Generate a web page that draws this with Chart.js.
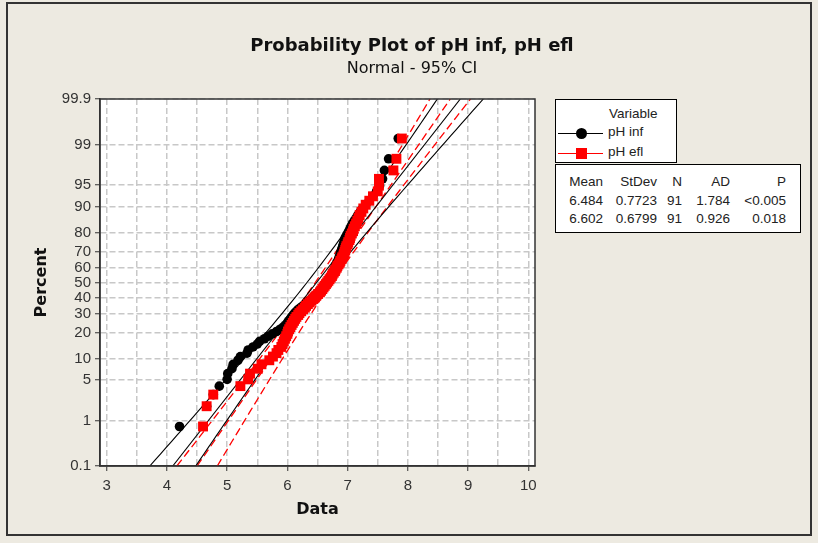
<!DOCTYPE html>
<html>
<head>
<meta charset="utf-8">
<script src="https://cdn.jsdelivr.net/npm/chart.js@4.4.1/dist/chart.umd.min.js"></script>
<style>
  html, body { margin: 0; padding: 0; background: #EDEAE1; }
  #wrap { position: relative; width: 818px; height: 543px; background: #EDEAE1; overflow: hidden; }
  #frame { position: absolute; left: 6px; top: 2px; width: 806px; height: 534px; border: 2px solid #333; box-sizing: border-box; }
  canvas { position: absolute; left: 0; top: 0; }
  .title { position: absolute; left: 0; width: 824px; text-align: center; color: #111; }
  #t1 { top: 34px; font: bold 18px 'DejaVu Sans', sans-serif; line-height: 22px; }
  #t2 { top: 59px; font: 16px 'DejaVu Sans', sans-serif; line-height: 18px; }
  .box { position: absolute; background: #fff; border: 1px solid #000; box-sizing: border-box;
         font: 13.5px 'Liberation Sans', sans-serif; color: #222; }
  .box span { position: absolute; line-height: 16px; white-space: nowrap; }
  .r { text-align: right; }
  .sw { position: absolute; height: 1px; }
</style>
</head>
<body>
<div id="wrap">
  <div id="frame"></div>
  <canvas id="chart" width="818" height="543"></canvas>
  <div class="title" id="t1">Probability Plot of pH inf, pH efl</div>
  <div class="title" id="t2">Normal - 95% CI</div>
  <div class="box" id="legend" style="left:555px;top:99px;width:122px;height:64px;"></div>
  <div class="box" id="stats" style="left:555px;top:164px;width:246px;height:69px;"></div>
</div>
<script>
'use strict';

// ─── Data ─────────────────────────────────────────────────────
const seriesNames = ['pH inf', 'pH efl'];
const seriesColors = ['#000000', '#FF0000'];

// sorted observations, 91 each
const phInf = [
  4.21, 4.66, 4.77, 4.87, 5.00, 5.01, 5.08, 5.10, 5.18, 5.22,
  5.33, 5.35, 5.43, 5.50, 5.54, 5.62, 5.68, 5.75, 5.82, 5.88,
  5.93, 5.97, 6.00, 6.02, 6.05, 6.07, 6.10, 6.12, 6.15, 6.18,
  6.22, 6.26, 6.30, 6.33, 6.36, 6.40, 6.43, 6.46, 6.49, 6.52,
  6.55, 6.57, 6.60, 6.62, 6.64, 6.66, 6.68, 6.70, 6.71, 6.72,
  6.74, 6.75, 6.76, 6.78, 6.79, 6.80, 6.81, 6.82, 6.84, 6.85,
  6.86, 6.87, 6.88, 6.89, 6.90, 6.91, 6.92, 6.93, 6.94, 6.95,
  6.96, 6.98, 7.00, 7.02, 7.04, 7.06, 7.08, 7.11, 7.14, 7.17,
  7.21, 7.25, 7.30, 7.36, 7.42, 7.48, 7.53, 7.58, 7.61, 7.68,
  7.84
];
const phEfl = [
  4.60, 4.66, 4.77, 5.22, 5.35, 5.38, 5.51, 5.57, 5.70, 5.76,
  5.82, 5.85, 5.90, 5.92, 5.94, 5.96, 5.98, 6.00, 6.01, 6.03,
  6.05, 6.07, 6.09, 6.11, 6.13, 6.15, 6.18, 6.20, 6.23, 6.26,
  6.29, 6.31, 6.34, 6.37, 6.40, 6.43, 6.45, 6.48, 6.51, 6.54,
  6.56, 6.58, 6.60, 6.62, 6.64, 6.66, 6.68, 6.70, 6.72, 6.74,
  6.75, 6.77, 6.79, 6.80, 6.82, 6.83, 6.85, 6.87, 6.88, 6.90,
  6.91, 6.93, 6.94, 6.95, 6.96, 6.97, 6.98, 7.00, 7.01, 7.03,
  7.04, 7.05, 7.07, 7.09, 7.10, 7.12, 7.14, 7.16, 7.18, 7.20,
  7.23, 7.26, 7.30, 7.36, 7.42, 7.50, 7.52, 7.52, 7.76, 7.81,
  7.90
];

// table values
const means = [6.484, 6.602];
const stdevs = [0.7723, 0.6799];
const counts = [91, 91];
const adValues = ['1.784', '0.926'];
const pValues = ['<0.005', '0.018'];

// axes
const percentTicks = [0.1, 1, 5, 10, 20, 30, 40, 50, 60, 70, 80, 90, 95, 99, 99.9];
const xGrid = [3, 3.5, 4, 4.5, 5, 5.5, 6, 6.5, 7, 7.5, 8, 8.5, 9, 9.5, 10];
const xMin = 2.89, xMax = 10.11;

// inverse normal cdf (Acklam)
function probit(p) {
    const a = [-3.969683028665376e+01, 2.209460984245205e+02, -2.759285104469687e+02, 1.383577518672690e+02, -3.066479806614716e+01, 2.506628277459239e+00];
    const b = [-5.447609879822406e+01, 1.615858368580409e+02, -1.556989798598866e+02, 6.680131188771972e+01, -1.328068155288572e+01];
    const c = [-7.784894002430293e-03, -3.223964580411365e-01, -2.400758277161838e+00, -2.549732539343734e+00, 4.374664141464968e+00, 2.938163982698783e+00];
    const d = [7.784695709041462e-03, 3.224671290700398e-01, 2.445134137142996e+00, 3.754408661907416e+00];
    const lo = 0.02425;
    let q, r;
    if (p < lo) {
        q = Math.sqrt(-2 * Math.log(p));
        return (((((c[0]*q+c[1])*q+c[2])*q+c[3])*q+c[4])*q+c[5]) / ((((d[0]*q+d[1])*q+d[2])*q+d[3])*q+1);
    }
    if (p > 1 - lo) {
        q = Math.sqrt(-2 * Math.log(1 - p));
        return -(((((c[0]*q+c[1])*q+c[2])*q+c[3])*q+c[4])*q+c[5]) / ((((d[0]*q+d[1])*q+d[2])*q+d[3])*q+1);
    }
    q = p - 0.5; r = q * q;
    return (((((a[0]*r+a[1])*r+a[2])*r+a[3])*r+a[4])*r+a[5])*q / (((((b[0]*r+b[1])*r+b[2])*r+b[3])*r+b[4])*r+1);
}

const zMin = probit(percentTicks[0] / 100);
const zMax = probit(percentTicks[percentTicks.length - 1] / 100);

// median ranks -> normal scores
function toPoints(values) {
    const n = values.length;
    return values.map((v, i) => ({ x: v, y: probit((i + 1 - 0.3) / (n + 0.4)) }));
}

// fitted line and 95% CI from mean / stdev / N
function fitLine(k) {
    return [zMin, zMax].map(z => ({ x: means[k] + stdevs[k] * z, y: z }));
}
function ciLine(k, sign) {
    const pts = [];
    const steps = 60;
    for (let j = 0; j <= steps; j++) {
        const z = zMin + (zMax - zMin) * j / steps;
        const half = 1.96 * stdevs[k] * Math.sqrt(1 / counts[k] + z * z / (2 * counts[k]));
        pts.push({ x: means[k] + stdevs[k] * z + sign * half, y: z });
    }
    return pts;
}

function lineSet(data, color, dash, width, order) {
    return {
        data, showLine: true, borderColor: color, borderWidth: width,
        borderDash: dash, pointRadius: 0, fill: false, order
    };
}

const datasets = [
    { label: seriesNames[1], data: toPoints(phEfl), pointStyle: 'rect', pointRadius: 7,
      backgroundColor: seriesColors[1], borderWidth: 0, showLine: false, order: 0 },
    { label: seriesNames[0], data: toPoints(phInf), pointStyle: 'circle', pointRadius: 4.8,
      backgroundColor: seriesColors[0], borderWidth: 0, showLine: false, order: 1 },
    lineSet(fitLine(0), seriesColors[0], [], 1.1, 2),
    lineSet(ciLine(0, -1), seriesColors[0], [], 1.1, 2),
    lineSet(ciLine(0, 1), seriesColors[0], [], 1.1, 2),
    lineSet(fitLine(1), seriesColors[1], [8, 4], 1.3, 3),
    lineSet(ciLine(1, -1), seriesColors[1], [8, 4], 1.3, 3),
    lineSet(ciLine(1, 1), seriesColors[1], [8, 4], 1.3, 3)
];

// white plot area + outer frame
const plotFrame = {
    id: 'plotFrame',
    beforeDraw(chart) {
        const { ctx, chartArea: a } = chart;
        ctx.save();
        ctx.fillStyle = '#FFFFFF';
        ctx.fillRect(a.left, a.top, a.right - a.left, a.bottom - a.top);
        ctx.restore();
    },
    afterDraw(chart) {
        const { ctx, chartArea: a } = chart;
        ctx.save();
        ctx.strokeStyle = '#333';
        ctx.lineWidth = 1.5;
        ctx.strokeRect(a.left, a.top, a.right - a.left, a.bottom - a.top);
        ctx.restore();
    }
};

const tickFont = { family: 'Liberation Sans', size: 15 };
const gridGray = '#C8C8C8';

new Chart(document.getElementById('chart'), {
    type: 'scatter',
    data: { datasets },
    plugins: [plotFrame],
    options: {
        responsive: false,
        devicePixelRatio: 1,
        animation: false,
        layout: { padding: { left: 0, top: 99, right: 283, bottom: 0 } },
        plugins: { legend: { display: false }, tooltip: { enabled: false } },
        scales: {
            x: {
                type: 'linear', min: xMin, max: xMax,
                afterBuildTicks: s => { s.ticks = xGrid.map(v => ({ value: v })); },
                afterFit: s => { s.height = 77; },
                ticks: {
                    autoSkip: false, maxRotation: 0, padding: 6, font: tickFont, color: '#333',
                    callback: (v, i) => Number.isInteger(xGrid[i]) ? String(xGrid[i]) : ''
                },
                grid: {
                    color: gridGray, lineWidth: 1.5, tickLength: 5, tickWidth: 1,
                    tickColor: c => (c.tick && Number.isInteger(c.tick.value)) ? '#333' : 'rgba(0,0,0,0)'
                },
                border: { display: true, color: '#333', width: 1.5, dash: [6, 3] },
                title: {
                    display: true, text: 'Data', color: '#111',
                    font: { family: 'DejaVu Sans', size: 16, weight: 'bold' },
                    padding: { top: 0, bottom: 24 }
                }
            },
            y: {
                type: 'linear', min: zMin, max: zMax,
                afterBuildTicks: s => { s.ticks = percentTicks.map(p => ({ value: probit(p / 100) })); },
                afterFit: s => { s.width = 100; },
                ticks: {
                    autoSkip: false, padding: 4, font: tickFont, color: '#333',
                    callback: (v, i) => String(percentTicks[i])
                },
                grid: { color: gridGray, lineWidth: 1.5, tickLength: 5, tickWidth: 1, tickColor: '#333' },
                border: { display: true, color: '#333', width: 1.5, dash: [6, 3] },
                title: {
                    display: true, text: 'Percent', color: '#111',
                    font: { family: 'DejaVu Sans', size: 16, weight: 'bold' },
                    padding: { top: 32, bottom: 0 }
                }
            }
        }
    }
});

// ─── Legend box ───────────────────────────────────────────────
const legend = document.getElementById('legend');
let html = '<span style="left:53px;top:6px;">Variable</span>';
seriesNames.forEach((name, k) => {
    const cy = 33 + k * 20;
    const mark = k === 0
        ? `<div style="position:absolute;left:20px;top:${cy - 5}px;width:11px;height:11px;border-radius:50%;background:${seriesColors[k]}"></div>`
        : `<div style="position:absolute;left:20px;top:${cy - 5}px;width:11px;height:11px;background:${seriesColors[k]}"></div>`;
    html += `<div class="sw" style="left:2px;top:${cy}px;width:45px;background:${seriesColors[k]}"></div>` + mark +
            `<span style="left:52px;top:${cy - 9}px;">${name}</span>`;
});
legend.innerHTML = html;

// ─── Stats table ──────────────────────────────────────────────
const colRight = [48, 102, 127, 175, 231];
const header = ['Mean', 'StDev', 'N', 'AD', 'P'];
const rows = [header].concat(seriesNames.map((_, k) =>
    [means[k].toFixed(3), stdevs[k].toFixed(4), String(counts[k]), adValues[k], pValues[k]]));
let t = '';
rows.forEach((row, r) => {
    row.forEach((txt, c) => {
        t += `<span class="r" style="right:${245 - colRight[c]}px;top:${9 + r * 18.5}px;">${txt}</span>`;
    });
});
document.getElementById('stats').innerHTML = t;
</script>
</body>
</html>
